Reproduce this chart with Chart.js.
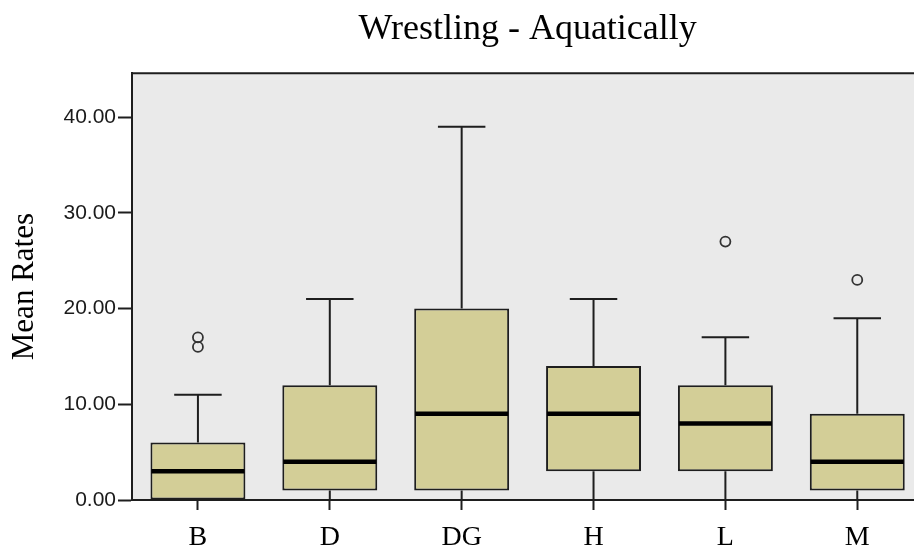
<!DOCTYPE html>
<html lang="en">
<head>
  <meta charset="UTF-8">
  <title>Wrestling - Aquatically</title>
  <script src="https://cdn.jsdelivr.net/npm/chart.js"></script>
  <style>
    html, body { margin: 0; padding: 0; background: #fff; overflow: hidden; }
    #wrap { width: 930px; height: 550px; }
  </style>
</head>
<body>
  <div id="wrap"><canvas id="boxChart" width="930" height="550"></canvas></div>

  <script>
    // Box plot summary per group
    const groups = ['B', 'D', 'DG', 'H', 'L', 'M'];
    const whiskerLow = [0, 0, 0, 0, 0, 0];
    const q1 = [0, 1, 1, 3, 3, 1];
    const median = [3, 4, 9, 9, 8, 4];
    const q3 = [6, 12, 20, 14, 12, 9];
    const whiskerHigh = [11, 21, 39, 21, 17, 19];
    // Outliers: group index + value
    const outlierGroup = [0, 0, 4, 5];
    const outlierValue = [16, 17, 27, 23];

    const yTicks = [0, 10, 20, 30, 40];

    const edge = '#1e1e1e';

    // Grey plot background plus the top frame line
    const plotFrame = {
      id: 'plotFrame',
      beforeDraw(chart) {
        const { ctx, chartArea: a } = chart;
        ctx.save();
        ctx.fillStyle = '#EAEAEA';
        ctx.fillRect(a.left, a.top, a.right - a.left, a.bottom - a.top);
        ctx.strokeStyle = edge;
        ctx.lineWidth = 2;
        ctx.beginPath();
        ctx.moveTo(a.left, a.top);
        ctx.lineTo(chart.width, a.top);
        ctx.stroke();
        ctx.restore();
      }
    };

    // Whiskers and median bars on top of the floating boxes
    const boxParts = {
      id: 'boxParts',
      afterDatasetsDraw(chart) {
        const { ctx, scales: { x, y } } = chart;
        const bars = chart.getDatasetMeta(0).data;
        ctx.save();
        groups.forEach((g, i) => {
          const cx = x.getPixelForValue(i);
          const w = bars[i].width;
          const cap = w / 2;
          ctx.strokeStyle = edge;
          ctx.lineWidth = 2;
          ctx.beginPath();
          // upper whisker
          ctx.moveTo(cx, y.getPixelForValue(q3[i]));
          ctx.lineTo(cx, y.getPixelForValue(whiskerHigh[i]));
          ctx.moveTo(cx - cap / 2, y.getPixelForValue(whiskerHigh[i]));
          ctx.lineTo(cx + cap / 2, y.getPixelForValue(whiskerHigh[i]));
          // lower whisker
          ctx.moveTo(cx, y.getPixelForValue(q1[i]));
          ctx.lineTo(cx, y.getPixelForValue(whiskerLow[i]));
          ctx.moveTo(cx - cap / 2, y.getPixelForValue(whiskerLow[i]));
          ctx.lineTo(cx + cap / 2, y.getPixelForValue(whiskerLow[i]));
          ctx.stroke();
          // median
          ctx.strokeStyle = '#000';
          ctx.lineWidth = 4.5;
          ctx.beginPath();
          ctx.moveTo(cx - w / 2 + 1, y.getPixelForValue(median[i]));
          ctx.lineTo(cx + w / 2 - 1, y.getPixelForValue(median[i]));
          ctx.stroke();
        });
        ctx.restore();
      }
    };

    new Chart(document.getElementById('boxChart'), {
      data: {
        labels: groups,
        datasets: [
          {
            type: 'bar',
            data: groups.map((g, i) => [q1[i], q3[i]]),
            backgroundColor: '#D3CE97',
            borderColor: edge,
            borderWidth: 2,
            borderSkipped: false,
            barPercentage: 0.72,
            categoryPercentage: 1
          },
          {
            type: 'line',
            showLine: false,
            data: outlierValue.map((v, k) => ({ x: groups[outlierGroup[k]], y: v })),
            pointStyle: 'circle',
            pointRadius: 5,
            pointBorderWidth: 1.8,
            pointBorderColor: '#333',
            pointBackgroundColor: 'rgba(0,0,0,0)'
          }
        ]
      },
      options: {
        responsive: false,
        animation: false,
        layout: { padding: { left: 0, right: 0, top: 0, bottom: 0 } },
        plugins: {
          legend: { display: false },
          tooltip: { enabled: false },
          title: {
            display: true,
            text: 'Wrestling - Aquatically',
            fullSize: false,
            color: '#000',
            font: { family: '"Liberation Serif", "Times New Roman", serif', size: 36, weight: 'normal' },
            padding: { top: 8, bottom: 22 }
          }
        },
        scales: {
          x: {
            offset: true,
            grid: {
              offset: false,
              drawOnChartArea: false,
              tickLength: 10,
              tickWidth: 2,
              tickColor: edge
            },
            border: { color: edge, width: 2 },
            ticks: {
              color: '#000',
              padding: 11,
              font: { family: '"Liberation Serif", "Times New Roman", serif', size: 28 }
            },
            afterFit(scale) { scale.height = 50; }
          },
          y: {
            min: 0,
            max: 44.6,
            afterBuildTicks(scale) { scale.ticks = yTicks.map(v => ({ value: v })); },
            grid: {
              drawOnChartArea: false,
              tickLength: 14,
              tickWidth: 2,
              tickColor: edge
            },
            border: { color: edge, width: 2 },
            ticks: {
              color: '#1a1a1a',
              padding: 2,
              font: { family: '"Liberation Sans", Arial, sans-serif', size: 21 },
              callback: v => v.toFixed(2)
            },
            title: {
              display: true,
              text: 'Mean Rates',
              color: '#000',
              padding: { top: 6, bottom: 0 },
              font: { family: '"Liberation Serif", "Times New Roman", serif', size: 31 }
            },
            afterFit(scale) { scale.width = 132; }
          }
        }
      },
      plugins: [plotFrame, boxParts]
    });
  </script>
</body>
</html>
